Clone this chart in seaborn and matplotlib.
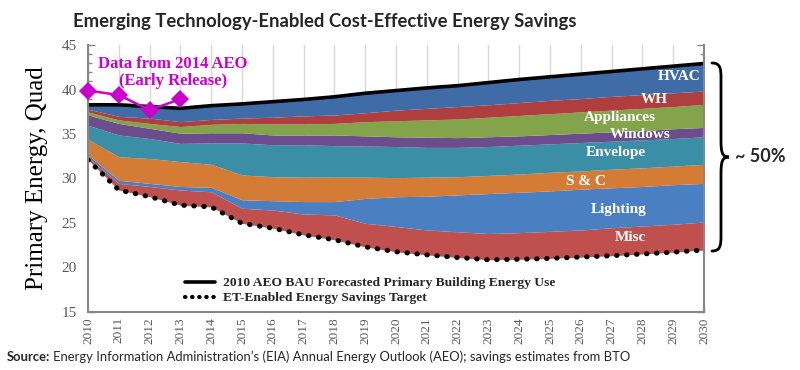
import numpy as np
import pandas as pd
import matplotlib
matplotlib.use("Agg")
import matplotlib.pyplot as plt
import seaborn as sns
from matplotlib.path import Path
from matplotlib.patches import PathPatch
from matplotlib.lines import Line2D
from matplotlib.ticker import MultipleLocator

# ---------------- data ----------------
years = list(range(2010, 2031))
target = [32.1, 28.7, 27.95, 27.0, 26.8, 24.95, 24.4, 23.65, 23.1, 22.3, 21.75,
          21.4, 21.1, 20.85, 20.9, 21.0, 21.15, 21.3, 21.5, 21.7, 21.95]
misc = [0.25, 0.75, 1.15, 1.7, 1.7, 1.7, 2.05, 2.35, 2.8, 2.65, 2.85,
        2.8, 2.9, 2.95, 3.0, 3.05, 3.05, 3.15, 3.15, 3.15, 3.15]
lighting = [0.3, 0.35, 0.35, 0.4, 0.5, 0.95, 1.05, 1.4, 1.5, 2.8, 3.35,
            3.8, 4.15, 4.5, 4.55, 4.55, 4.6, 4.5, 4.45, 4.45, 4.35]
sc = [1.75, 2.65, 2.8, 2.8, 2.6, 2.8, 2.7, 2.75, 2.75, 2.4, 2.15,
      2.15, 2.05, 2.05, 2.05, 2.1, 2.05, 2.1, 2.1, 2.1, 2.15]
envelope = [1.6, 2.45, 2.25, 2.05, 2.4, 3.6, 3.6, 3.65, 3.55, 3.5, 3.5,
            3.35, 3.3, 3.25, 3.25, 3.2, 3.2, 3.15, 3.15, 3.1, 3.1]
windows = [1.15, 1.3, 1.15, 1.15, 1.15, 1.15, 1.1, 1.1, 1.2, 1.15, 1.1,
           1.15, 1.1, 1.1, 1.05, 1.05, 1.05, 1.05, 1.05, 1.1, 1.05]
appliances = [0.35, 0.4, 0.55, 0.75, 0.95, 1.05, 1.25, 1.25, 1.3, 1.6, 1.8,
              1.95, 2.1, 2.2, 2.3, 2.35, 2.4, 2.45, 2.5, 2.5, 2.6]
wh = [0.3, 0.4, 0.6, 0.55, 0.55, 0.6, 0.75, 0.9, 0.95, 1.0, 1.2,
      1.3, 1.4, 1.4, 1.45, 1.5, 1.5, 1.55, 1.55, 1.55, 1.5]
hvac = [0.5, 1.3, 1.3, 1.5, 1.55, 1.6, 1.75, 1.85, 2.05, 2.2, 2.2,
        2.3, 2.35, 2.5, 2.6, 2.65, 2.75, 2.8, 2.9, 3.0, 3.1]

aeo2014_years = [2010, 2011, 2012, 2013]
aeo2014_values = [39.9, 39.4, 37.7, 38.95]

layer_names = ["Misc", "Lighting", "S & C", "Envelope", "Windows", "Appliances", "WH", "HVAC"]
layer_values = [misc, lighting, sc, envelope, windows, appliances, wh, hvac]
layer_colors = ["#C0504D", "#4A7FC1", "#D47C35", "#3A8FA6", "#6B4D8D", "#83A44B", "#AE3F3E", "#3F6CA6"]

legend_labels = ["2010 AEO BAU Forecasted Primary Building Energy Use",
                 "ET-Enabled Energy Savings Target"]

# ---------------- figure ----------------
sns.set_theme(style="white")
plt.rcParams["font.family"] = ["Liberation Serif", "DejaVu Serif"]

fig = plt.figure(figsize=(8, 3.7), dpi=100)
ax = fig.add_axes([0.11, 0.1576, 0.77, 0.72])

yrs = np.array(years, dtype=float)
base = np.array(target, dtype=float)
lower = base.copy()
for name, vals, col in zip(layer_names, layer_values, layer_colors):
    upper = lower + np.array(vals)
    ax.fill_between(yrs, lower, upper, color=col, linewidth=0, zorder=2)
    lower = upper
bau = lower

# white below target hides gridlines
ax.fill_between(yrs, 15, base, color="white", linewidth=0, zorder=1.5)

df = pd.DataFrame({"year": yrs, "bau": bau, "target": base})
sns.lineplot(data=df, x="year", y="bau", color="black", linewidth=2.6, ax=ax, zorder=4)
sns.lineplot(data=df, x="year", y="target", color="black", linewidth=3.6, ax=ax, zorder=4,
             linestyle=(0, (0.1, 1.9)), dash_capstyle="round")

df_aeo = pd.DataFrame({"year": aeo2014_years, "v": aeo2014_values})
sns.lineplot(data=df_aeo, x="year", y="v", color="#CC00CC", linewidth=1.8, marker="D",
             markersize=9.5, markeredgewidth=0, ax=ax, zorder=6, clip_on=False)

ax.set_xlim(2010, 2030)
ax.set_ylim(15, 45)
ax.set_xticks(years)
ax.set_xticklabels([str(y) for y in years], rotation=90, fontsize=9.5, color="#595959")
ax.yaxis.set_major_locator(MultipleLocator(5))
ax.yaxis.set_minor_locator(MultipleLocator(1))
ax.tick_params(axis="y", which="major", direction="in", length=5, width=1, color="#868686",
               labelsize=11, labelcolor="#595959", left=True, right=True, pad=8)
ax.tick_params(axis="y", which="minor", direction="in", length=3, width=1, color="#868686",
               left=True, right=True)
ax.tick_params(axis="x", which="major", direction="in", length=4, width=1, color="#868686",
               bottom=True, pad=4)
ax.grid(axis="x", color="#D9D9D9", linewidth=1, zorder=0)
ax.grid(axis="y", visible=False)
ax.set_axisbelow(True)
for s in ["left", "right", "bottom"]:
    ax.spines[s].set_color("#868686")
    ax.spines[s].set_linewidth(1.5)
    ax.spines[s].set_zorder(5)
ax.spines["top"].set_visible(False)
ax.set_xlabel("")
ax.set_ylabel("Primary Energy, Quad", fontsize=18, color="black", labelpad=10)

# layer labels
label_pos = {"HVAC": (2029.19, 41.46), "WH": (2028.37, 38.92), "Appliances": (2027.26, 36.85),
             "Windows": (2027.94, 34.98), "Envelope": (2027.14, 32.9), "S & C": (2026.16, 29.64),
             "Lighting": (2027.23, 26.53), "Misc": (2027.62, 23.33)}
for name in layer_names:
    x, y = label_pos[name]
    ax.text(x, y, name, color="white", fontsize=11, fontweight="bold", ha="center", va="center",
            zorder=7)

# AEO annotation
ax.text(2012.75, 42.9, "Data from 2014 AEO", color="#CC00CC", fontsize=12, fontweight="bold",
        ha="center", va="center", zorder=7)
ax.text(2012.75, 41.0, "(Early Release)", color="#CC00CC", fontsize=12, fontweight="bold",
        ha="center", va="center", zorder=7)

# legend
handles = [Line2D([0], [0], color="black", linewidth=2.6),
           Line2D([0], [0], color="black", linewidth=3.0, linestyle=(0, (0.1, 1.6)),
                  dash_capstyle="round")]
leg = ax.legend(handles, legend_labels, loc="lower left", bbox_to_anchor=(0.138, -0.018),
                frameon=False, handlelength=2.2, handletextpad=0.6, labelspacing=0.2,
                prop={"family": "Liberation Serif", "weight": "bold", "size": 9.7})
leg.set_zorder(8)

# title
fig.text(73 / 800, 0.942, "Emerging Technology-Enabled Cost-Effective Energy Savings",
         fontsize=13.3, fontweight="bold", family=["Lato", "DejaVu Sans"], ha="left", va="center")

# brace
W, H = 800.0, 370.0
def P(x, y):
    return (x / W, 1 - y / H)
verts = [P(712, 63), P(720, 63), P(721, 68), P(721, 78),
         P(721, 140), P(721, 152), P(722, 157), P(729, 157),
         P(722, 157), P(721, 162), P(721, 174), P(721, 236),
         P(721, 246), P(720, 251), P(712, 251)]
codes = [Path.MOVETO, Path.CURVE4, Path.CURVE4, Path.CURVE4,
         Path.LINETO, Path.CURVE4, Path.CURVE4, Path.CURVE4,
         Path.CURVE4, Path.CURVE4, Path.CURVE4, Path.LINETO,
         Path.CURVE4, Path.CURVE4, Path.CURVE4]
fig.patches.append(PathPatch(Path(verts, codes), transform=fig.transFigure, fill=False,
                             edgecolor="black", linewidth=2.0, capstyle="round"))
fig.text(735 / W, 1 - 157 / H, "~ 50%", fontsize=13, fontweight="bold",
         family=["Lato", "DejaVu Sans"], ha="left", va="center")

# source
fig.canvas.draw()
r = fig.canvas.get_renderer()
t1 = fig.text(7 / W, 1 - 357 / H, "Source:", fontsize=9.4, fontweight="bold",
              family=["Lato", "DejaVu Sans"], ha="left", va="center")
bb = t1.get_window_extent(renderer=r)
fig.text((bb.x1 + 3) / W, 1 - 357 / H,
         "Energy Information Administration\u2019s (EIA) Annual Energy Outlook (AEO); savings estimates from BTO",
         fontsize=9.4, family=["Lato", "DejaVu Sans"], ha="left", va="center")

fig.savefig("out.png", dpi=100)
